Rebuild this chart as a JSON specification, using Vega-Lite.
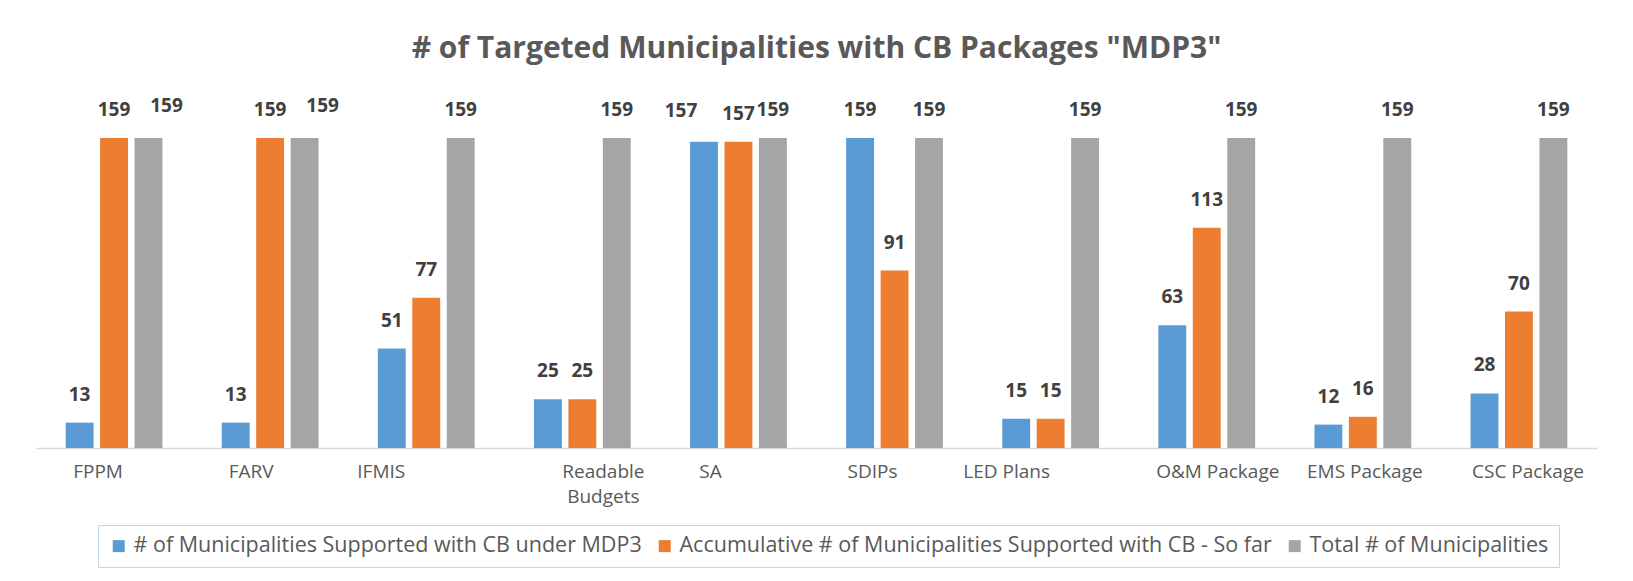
{
  "$schema": "https://vega.github.io/schema/vega-lite/v6.json",
  "autosize": {"type": "none"},
  "padding": {"left": 36, "top": 97, "right": 36, "bottom": 133},
  "width": 1561,
  "height": 351,
  "background": "white",
  "config": {"view": {"stroke": null}, "font": "Open Sans"},
  "title": {
    "text": "# of Targeted Municipalities with CB Packages \"MDP3\"",
    "fontSize": 30,
    "font": "Open Sans",
    "fontWeight": "bold",
    "color": "#595959",
    "anchor": "middle",
    "offset": 33
  },
  "data": {
    "values": [
      {"cat": "FPPM", "series": "# of Municipalities Supported with CB under MDP3", "value": 13},
      {"cat": "FPPM", "series": "Accumulative # of Municipalities Supported with CB - So far", "value": 159},
      {"cat": "FPPM", "series": "Total # of Municipalities", "value": 159},
      {"cat": "FARV", "series": "# of Municipalities Supported with CB under MDP3", "value": 13},
      {"cat": "FARV", "series": "Accumulative # of Municipalities Supported with CB - So far", "value": 159},
      {"cat": "FARV", "series": "Total # of Municipalities", "value": 159},
      {"cat": "IFMIS", "series": "# of Municipalities Supported with CB under MDP3", "value": 51},
      {"cat": "IFMIS", "series": "Accumulative # of Municipalities Supported with CB - So far", "value": 77},
      {"cat": "IFMIS", "series": "Total # of Municipalities", "value": 159},
      {"cat": "Readable Budgets", "series": "# of Municipalities Supported with CB under MDP3", "value": 25},
      {"cat": "Readable Budgets", "series": "Accumulative # of Municipalities Supported with CB - So far", "value": 25},
      {"cat": "Readable Budgets", "series": "Total # of Municipalities", "value": 159},
      {"cat": "SA", "series": "# of Municipalities Supported with CB under MDP3", "value": 157},
      {"cat": "SA", "series": "Accumulative # of Municipalities Supported with CB - So far", "value": 157},
      {"cat": "SA", "series": "Total # of Municipalities", "value": 159},
      {"cat": "SDIPs", "series": "# of Municipalities Supported with CB under MDP3", "value": 159},
      {"cat": "SDIPs", "series": "Accumulative # of Municipalities Supported with CB - So far", "value": 91},
      {"cat": "SDIPs", "series": "Total # of Municipalities", "value": 159},
      {"cat": "LED Plans", "series": "# of Municipalities Supported with CB under MDP3", "value": 15},
      {"cat": "LED Plans", "series": "Accumulative # of Municipalities Supported with CB - So far", "value": 15},
      {"cat": "LED Plans", "series": "Total # of Municipalities", "value": 159},
      {"cat": "O&M Package", "series": "# of Municipalities Supported with CB under MDP3", "value": 63},
      {"cat": "O&M Package", "series": "Accumulative # of Municipalities Supported with CB - So far", "value": 113},
      {"cat": "O&M Package", "series": "Total # of Municipalities", "value": 159},
      {"cat": "EMS Package", "series": "# of Municipalities Supported with CB under MDP3", "value": 12},
      {"cat": "EMS Package", "series": "Accumulative # of Municipalities Supported with CB - So far", "value": 16},
      {"cat": "EMS Package", "series": "Total # of Municipalities", "value": 159},
      {"cat": "CSC Package", "series": "# of Municipalities Supported with CB under MDP3", "value": 28},
      {"cat": "CSC Package", "series": "Accumulative # of Municipalities Supported with CB - So far", "value": 70},
      {"cat": "CSC Package", "series": "Total # of Municipalities", "value": 159}
    ]
  },
  "encoding": {
    "x": {
      "field": "cat",
      "type": "nominal",
      "sort": null,
      "scale": {"paddingInner": 0.38, "paddingOuter": 0.19},
      "axis": {
        "title": null,
        "labelAngle": 0,
        "ticks": false,
        "domainColor": "#d9d9d9",
        "domainWidth": 1.5,
        "labelFontSize": 19,
        "labelColor": "#595959",
        "labelFont": "Open Sans",
        "labelPadding": 14,
        "labelLimit": 300,
        "labelBaseline": "top",
        "labelLineHeight": 25,
        "labelExpr": "datum.label == 'Readable Budgets' ? ['Readable', 'Budgets'] : datum.label",
        "labelOffset": {
          "condition": [
            {"test": "datum.value === 'FPPM'", "value": -16},
            {"test": "datum.value === 'FARV'", "value": -19},
            {"test": "datum.value === 'IFMIS'", "value": -45},
            {"test": "datum.value === 'Readable Budgets'", "value": 21},
            {"test": "datum.value === 'SA'", "value": -28},
            {"test": "datum.value === 'SDIPs'", "value": -22},
            {"test": "datum.value === 'LED Plans'", "value": -44},
            {"test": "datum.value === 'O&M Package'", "value": 11},
            {"test": "datum.value === 'EMS Package'", "value": 2}
          ],
          "value": 9
        }
      }
    },
    "xOffset": {
      "field": "series",
      "type": "nominal",
      "sort": null,
      "scale": {"paddingInner": 0.19}
    },
    "y": {
      "field": "value",
      "type": "quantitative",
      "scale": {"domain": [0, 180]},
      "axis": null
    },
    "color": {
      "field": "series",
      "type": "nominal",
      "sort": null,
      "scale": {"range": ["#5B9BD5", "#ED7D31", "#A5A5A5"]},
      "legend": {
        "title": null,
        "orient": "none",
        "legendX": 62,
        "legendY": 428,
        "direction": "horizontal",
        "symbolType": "square",
        "symbolSize": 144,
        "labelFontSize": 21.5,
        "labelColor": "#595959",
        "labelFont": "Open Sans",
        "labelLimit": 800,
        "columnPadding": 12,
        "strokeColor": "#BDD7EE",
        "padding": 10,
        "fillColor": "white"
      }
    }
  },
  "layer": [
    {"mark": {"type": "bar"}},
    {
      "transform": [
        {"filter": "!(((datum.cat === 'FPPM' || datum.cat === 'FARV') && datum.series === 'Total # of Municipalities') || (datum.cat === 'SA' && datum.series === '# of Municipalities Supported with CB under MDP3'))"}
      ],
      "mark": {
        "type": "text",
        "baseline": "bottom",
        "dy": -18,
        "fontSize": 19,
        "fontWeight": "bold",
        "font": "Open Sans"
      },
      "encoding": {
        "text": {"field": "value", "type": "quantitative"},
        "color": {"value": "#404040"}
      }
    },
    {
      "transform": [
        {"filter": "(datum.cat === 'FPPM' || datum.cat === 'FARV') && datum.series === 'Total # of Municipalities'"}
      ],
      "mark": {
        "type": "text",
        "baseline": "bottom",
        "dx": 18,
        "dy": -22,
        "fontSize": 19,
        "fontWeight": "bold",
        "font": "Open Sans"
      },
      "encoding": {
        "text": {"field": "value", "type": "quantitative"},
        "color": {"value": "#404040"}
      }
    },
    {
      "transform": [
        {"filter": "datum.cat === 'SA' && datum.series === '# of Municipalities Supported with CB under MDP3'"}
      ],
      "mark": {
        "type": "text",
        "baseline": "bottom",
        "dx": -23,
        "dy": -21,
        "fontSize": 19,
        "fontWeight": "bold",
        "font": "Open Sans"
      },
      "encoding": {
        "text": {"field": "value", "type": "quantitative"},
        "color": {"value": "#404040"}
      }
    }
  ]
}
